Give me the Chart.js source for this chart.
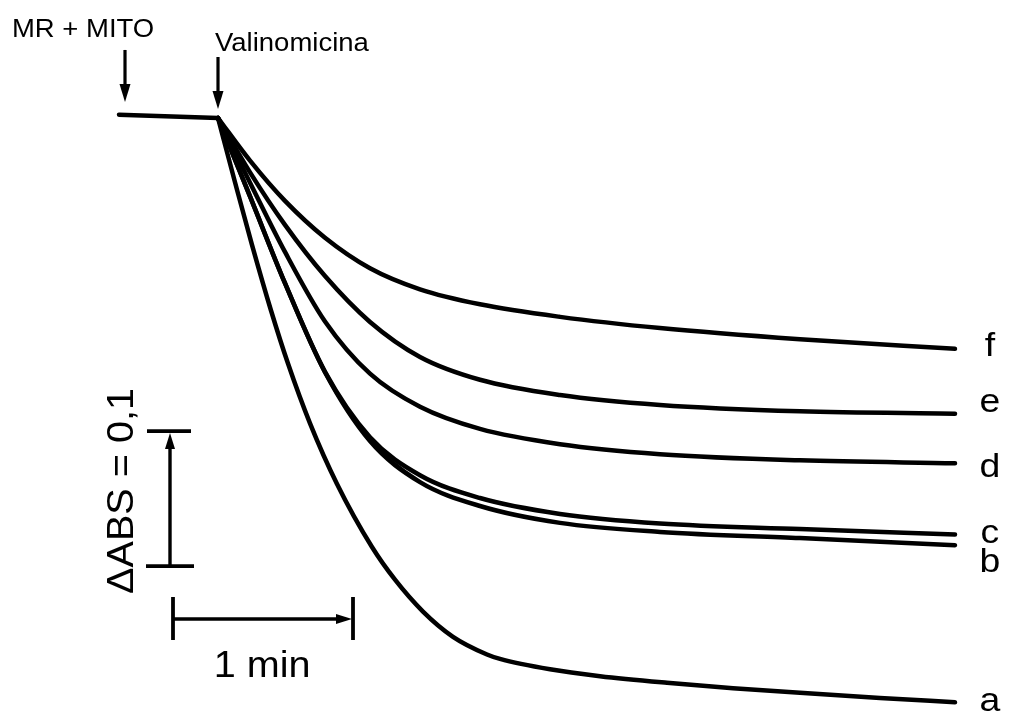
<!DOCTYPE html>
<html>
<head>
<meta charset="utf-8">
<script src="https://cdn.jsdelivr.net/npm/chart.js@4/dist/chart.umd.min.js"></script>
<style>
  html, body { margin: 0; padding: 0; background: #fff; }
  canvas { display: block; }
</style>
</head>
<body>
<canvas id="chart" width="1009" height="712"></canvas>
<script>
// Absorbance traces: [time (s), ΔA relative to the moment valinomycin is added]
const baseline = [[0, 0.0025], [33, 0]];

const traceA = [[33,0],[38.67,-0.0476],[44.33,-0.0940],[50.67,-0.1426],[56.33,-0.1819],
  [63.67,-0.2262],[72.67,-0.2711],[84.33,-0.3178],[92,-0.3420],[101.33,-0.3656],
  [111.33,-0.3843],[122.67,-0.3974],[127,-0.4007],[143.67,-0.4084],[160.33,-0.4135],
  [182.67,-0.4184],[204.67,-0.4224],[227,-0.4258],[253.67,-0.4296],[278.67,-0.4328]];

const traceB = [[33,0],[43.67,-0.0581],[55.33,-0.1224],[68.67,-0.1883],[83.67,-0.2393],
  [100.33,-0.2697],[120.33,-0.2874],[147,-0.2999],[180.33,-0.3066],[227,-0.3112],
  [278.67,-0.3164]];

const traceC = [[33,0],[43.67,-0.0581],[55.33,-0.1224],[68.67,-0.1881],[83.67,-0.2365],
  [100.33,-0.2646],[120.33,-0.2815],[147,-0.2933],[180.33,-0.3004],[227,-0.3045],
  [278.67,-0.3085]];

const traceD = [[33,0],[43.67,-0.0479],[55.33,-0.0992],[68.67,-0.1507],[83.67,-0.1894],
  [100.33,-0.2139],[120.33,-0.2303],[147,-0.2416],[180.33,-0.2490],[227,-0.2536],
  [278.67,-0.2557]];

const traceE = [[33,0],[43.67,-0.0403],[55.33,-0.0792],[68.67,-0.1171],[83.67,-0.1511],
  [100.33,-0.1770],[120.33,-0.1939],[147,-0.2052],[180.33,-0.2126],[227,-0.2173],
  [278.67,-0.2190]];

const traceF = [[33,0],[43.67,-0.0316],[55.33,-0.0614],[68.67,-0.0887],[83.67,-0.1113],
  [100.33,-0.1269],[120.33,-0.1380],[147,-0.1473],[180.33,-0.1556],[227,-0.1639],
  [278.67,-0.1710]];

const traceNames = ['a', 'b', 'c', 'd', 'e', 'f'];
const traces = [traceA, traceB, traceC, traceD, traceE, traceF];

const toPoints = arr => arr.map(([t, a]) => ({ x: t, y: a }));

const lineStyle = {
  borderColor: '#000',
  borderWidth: 4.5,
  pointRadius: 0,
  fill: false,
  borderCapStyle: 'round',
  borderJoinStyle: 'round',
  cubicInterpolationMode: 'monotone'
};

const datasets = [{ label: 'base', data: toPoints(baseline), ...lineStyle, cubicInterpolationMode: 'default', tension: 0 }]
  .concat(traces.map((tr, i) => ({ label: traceNames[i], data: toPoints(tr), ...lineStyle })));

const FONT = '"Liberation Sans", Arial, Helvetica, sans-serif';

// Arrows, scale bars and captions, placed in data coordinates
const annotations = {
  id: 'annotations',
  afterDatasetsDraw(chart, args, opts) {
    const { ctx } = chart;
    const xs = chart.scales.x, ys = chart.scales.y;
    const px = t => xs.getPixelForValue(t);
    const py = a => ys.getPixelForValue(a);

    const text = (str, X, Y, size, align, rot) => {
      ctx.save();
      ctx.translate(X, Y);
      if (rot) ctx.rotate(rot);
      ctx.scale(1.1, 1);
      ctx.font = size + 'px ' + FONT;
      ctx.textAlign = align;
      ctx.textBaseline = 'alphabetic';
      ctx.fillStyle = '#000';
      ctx.fillText(str, 0, 0);
      ctx.restore();
    };
    const line = (x1, y1, x2, y2, w) => {
      ctx.beginPath();
      ctx.lineWidth = w;
      ctx.moveTo(x1, y1);
      ctx.lineTo(x2, y2);
      ctx.stroke();
    };
    const head = (tipX, tipY, dx, dy, len, half) => {
      // dx,dy: unit direction of travel
      const bx = tipX - dx * len, by = tipY - dy * len;
      ctx.beginPath();
      ctx.moveTo(tipX, tipY);
      ctx.lineTo(bx - dy * half, by + dx * half);
      ctx.lineTo(bx + dy * half, by - dx * half);
      ctx.closePath();
      ctx.fill();
    };

    ctx.save();
    ctx.strokeStyle = '#000';
    ctx.fillStyle = '#000';
    ctx.lineCap = 'butt';

    // additions
    opts.additions.forEach(ad => {
      const X = px(ad.t), y1 = py(ad.from), y2 = py(ad.to);
      line(X, y1, X, y2 - 14, 3.2);
      head(X, y2, 0, 1, 18, 5.5);
      text(ad.label, px(ad.labelT), py(ad.labelA), 25, 'left');
    });

    // ΔABS scale bar
    const v = opts.absBar;
    const vx = px(v.t), vTop = py(v.a0 + v.size), vBot = py(v.a0);
    line(vx, vBot, vx, vTop + 12, 3.4);
    head(vx, vTop + 2, 0, -1, 16, 5);
    line(vx - 23, vTop, vx + 21, vTop, 3.8);
    line(vx - 24, vBot, vx + 24, vBot, 3.8);
    text(v.label, px(v.labelT), py(v.labelA), 36, 'center', -Math.PI / 2);

    // time scale bar
    const h = opts.timeBar;
    const hy = py(h.a), hx0 = px(h.t0), hx1 = px(h.t0 + h.size);
    line(hx0, hy, hx1 - 12, hy, 3.4);
    head(hx1 - 1, hy, 1, 0, 16, 5);
    line(hx0, hy - 22, hx0, hy + 21, 3.8);
    line(hx1, hy - 22, hx1, hy + 21, 3.8);
    text(h.label, px(h.labelT), py(h.labelA), 36, 'center');

    // trace letters
    opts.letters.forEach(l => text(l.name, px(opts.letterT), py(l.a), 34, 'center'));

    ctx.restore();
  }
};

new Chart(document.getElementById('chart'), {
  type: 'line',
  data: { datasets },
  options: {
    responsive: false,
    animation: false,
    events: [],
    layout: { padding: 0 },
    scales: {
      x: { type: 'linear', min: -39.667, max: 296.667, display: false },
      y: { type: 'linear', min: -0.44, max: 0.08741, display: false }
    },
    plugins: {
      legend: { display: false },
      title: { display: false },
      tooltip: { enabled: false },
      annotations: {
        additions: [
          { t: 2, from: 0.0504, to: 0.0119, label: 'MR + MITO', labelT: -35.7, labelA: 0.0600 },
          { t: 33, from: 0.0452, to: 0.0067, label: 'Valinomicina', labelT: 32.0, labelA: 0.0496 }
        ],
        absBar: { t: 17, a0: -0.3319, size: 0.1, label: '\u0394ABS = 0,1', labelT: 4.67, labelA: -0.2763 },
        timeBar: { t0: 18, a: -0.3711, size: 60, label: '1 min', labelT: 47.7, labelA: -0.414 },
        letterT: 290.3,
        letters: [
          { name: 'f', a: -0.1763 },
          { name: 'e', a: -0.2178 },
          { name: 'd', a: -0.2659 },
          { name: 'c', a: -0.3148 },
          { name: 'b', a: -0.3363 },
          { name: 'a', a: -0.4393 }
        ]
      }
    }
  },
  plugins: [annotations]
});
</script>
</body>
</html>
